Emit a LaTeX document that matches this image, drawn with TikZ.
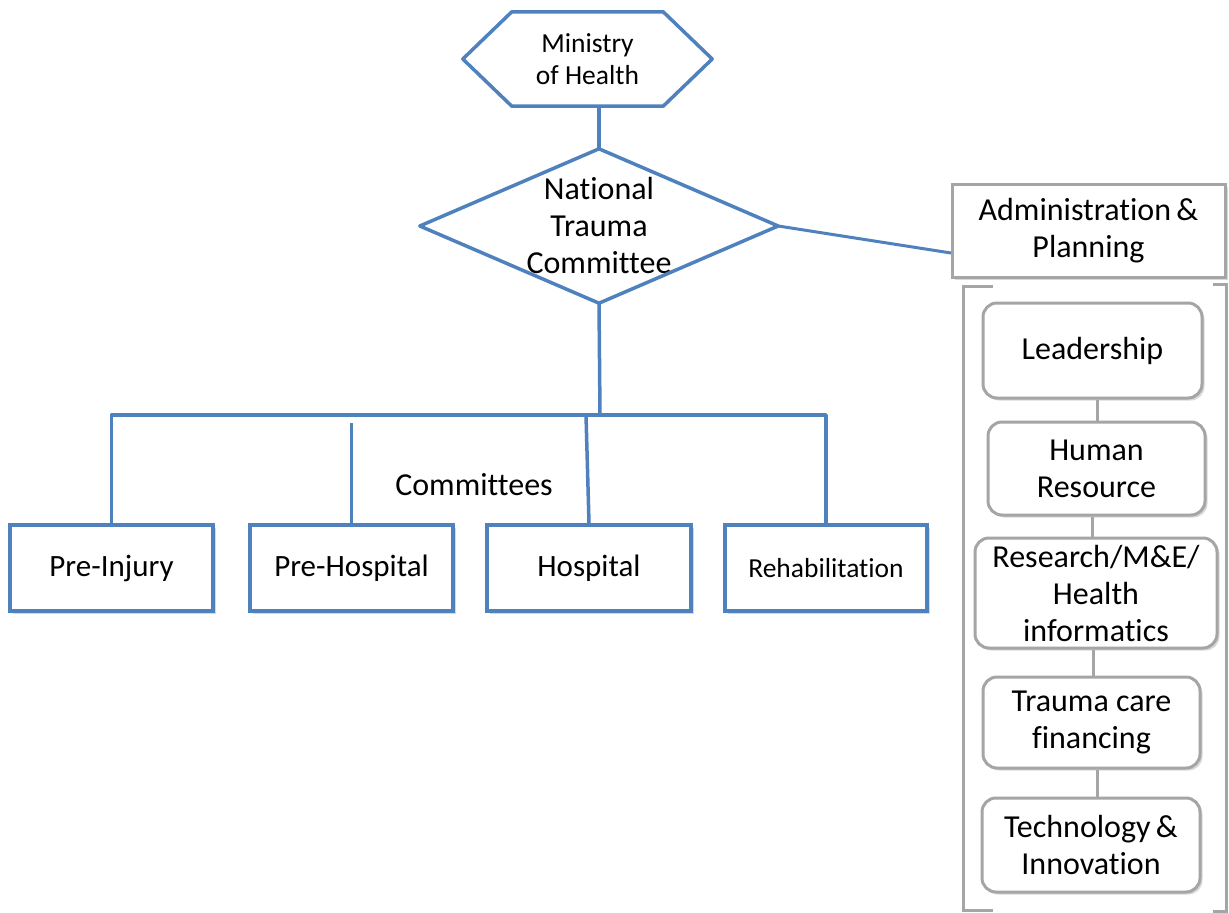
\documentclass[tikz,border=0pt]{standalone}
\usepackage{fontspec}
\setmainfont{Carlito}[Ligatures=CommonOff]
\usetikzlibrary{shadows}
\definecolor{offblue}{HTML}{4F81BD}
\definecolor{offgray}{HTML}{A5A5A5}
\begin{document}
\begin{tikzpicture}[x=1pt,y=-1pt,
    bline/.style={draw=offblue,line width=3.5pt},
    gline/.style={draw=offgray,line width=3pt},
    sh/.style={drop shadow={shadow xshift=2.5pt,shadow yshift=-2.5pt,opacity=0.3}},
    cbox/.style={bline,fill=white,sh,inner sep=0pt,font=\fontsize{31}{37}\selectfont},
    gbox/.style={gline,fill=white,sh,rounded corners=14pt,inner sep=0pt,align=center,font=\fontsize{32}{37}\selectfont},
    txt/.style={inner sep=0pt,align=center,font=\fontsize{32}{37}\selectfont}]
	\useasboundingbox (0,0) rectangle (1229,913);
	
	% top of the chart
	\node[txt,minimum width=249,minimum height=94,font=\fontsize{27.5}{32}\selectfont] (MH) at (587.5,59) {Ministry\\of Health};
	\draw[bline,line join=round] (MH.west) -- ([xshift=49pt]MH.north west) -- ([xshift=-49pt]MH.north east) -- (MH.east) -- ([xshift=-49pt]MH.south east) -- ([xshift=49pt]MH.south west) -- cycle;
	\node[txt,minimum width=358,minimum height=154] (NT) at (599,226) {National\\Trauma\\Committee};
	\draw[bline,line join=round] (NT.west) -- (NT.north) -- (NT.east) -- (NT.south) -- cycle;
	\draw[bline] (MH.south -| NT.north) -- (NT.north);
	
	% committees
	\node[cbox,minimum width=203,minimum height=86] (PI) at (111.5,568) {Pre-Injury};
	\node[cbox,minimum width=203,minimum height=86] (PH) at (351.5,568) {Pre-Hospital};
	\node[cbox,minimum width=204,minimum height=86] (HO) at (589,568) {Hospital};
	\node[cbox,minimum width=202,minimum height=86,font=\fontsize{27.5}{32}\selectfont] (RE) at (826,568) {Rehabilitation};
	\node[txt] (CO) at (474,485) {Committees};
	
	\coordinate (B0) at (600,415);
	\coordinate (PHtop) at (351.5,423);
	\coordinate (HOtop) at (586,415);
	\draw[bline] (NT.south) -- (B0);
	\draw[bline,line join=round] (PI.north) -- (PI.north |- B0) -- (RE.north |- B0) -- (RE.north);
	\draw[bline] (PHtop) -- (PH.north);
	\draw[bline] (HOtop) -- (HO.north);
	
	% administration side
	\node[gline,fill=white,sh,inner sep=0pt,minimum width=273,minimum height=93,align=center,font=\fontsize{32}{37}\selectfont] (AP) at (1088.5,230.5) {Administration\,\&\\Planning};
	\coordinate (APin) at (951,253);
	\draw[bline,line width=3pt] (NT.east) -- (APin);
	
	\draw[gline] (993,286) -- (963,286) -- (963,910) -- (993,910);
	\draw[gline] (1213,284) -- (1226,284) -- (1226,911) -- (1213,911);
	
	\node[gbox,minimum width=219,minimum height=95] (L1) at (1092.5,350.5) {Leadership};
	\node[gbox,minimum width=217,minimum height=93] (L2) at (1096.5,468.5) {Human\\Resource};
	\node[gbox,minimum width=242,minimum height=110] (L3) at (1096,593) {Research/M\&E/\\Health\\informatics};
	\node[gbox,minimum width=217,minimum height=91] (L4) at (1091.5,722.5) {Trauma care\\financing};
	\node[gbox,minimum width=218,minimum height=94] (L5) at (1091,845) {Technology\,\&\\Innovation};
	
	\draw[gline] (L1.south -| 1097,0) -- (L2.north -| 1097,0);
	\draw[gline] (L2.south -| 1092,0) -- (L3.north -| 1092,0);
	\draw[gline] (L3.south -| 1093,0) -- (L4.north -| 1093,0);
	\draw[gline] (L4.south -| 1097,0) -- (L5.north -| 1097,0);
\end{tikzpicture}
\end{document}
